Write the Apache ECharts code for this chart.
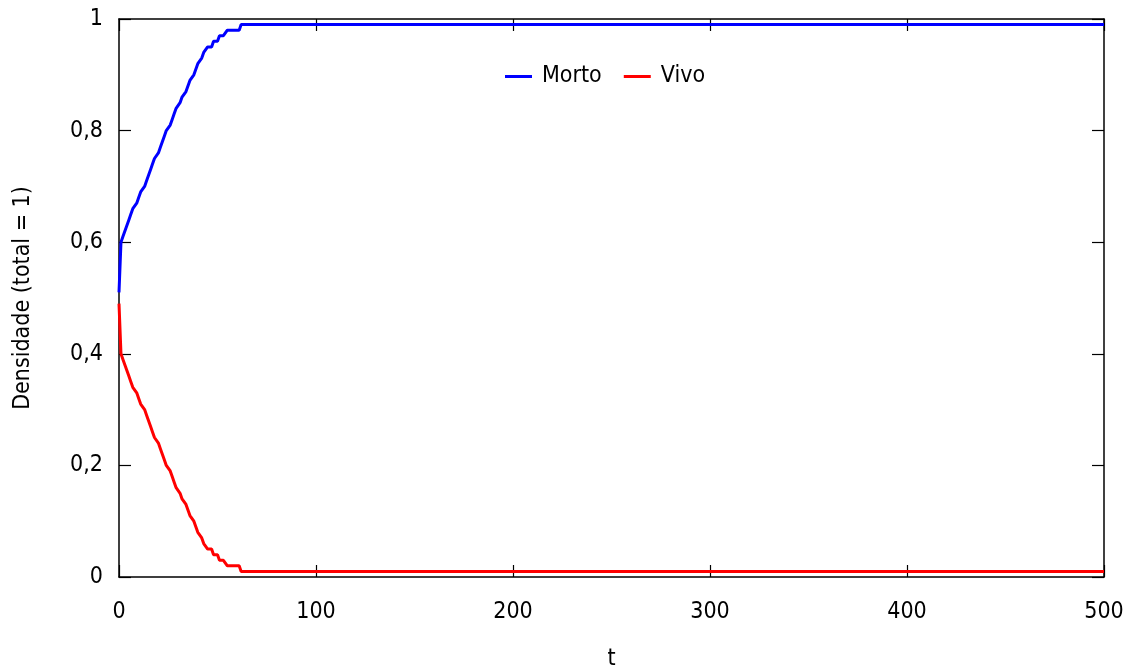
<!DOCTYPE html>
<html>
<head>
<meta charset="utf-8">
<script src="https://cdn.jsdelivr.net/npm/echarts@6/dist/echarts.min.js"></script>
<style>
html,body{margin:0;padding:0;background:#fff;}
#c{width:1133px;height:669px;}
</style>
</head>
<body>
<div id="c"></div>
<script>
var tValues = [0,1,2,3,4,5,6,7,8,9,10,11,12,13,14,15,16,17,18,19,20,21,22,23,24,25,26,27,28,29,30,31,32,33,34,35,36,37,38,39,40,41,42,43,44,45,46,47,48,49,50,51,52,53,54,55,56,57,58,59,60,61,62,500];
var morto = [0.51,0.60,0.61,0.62,0.63,0.64,0.65,0.66,0.66,0.67,0.68,0.69,0.69,0.70,0.71,0.72,0.73,0.74,0.75,0.75,0.76,0.77,0.78,0.79,0.80,0.80,0.81,0.82,0.83,0.84,0.84,0.85,0.86,0.86,0.87,0.88,0.89,0.89,0.90,0.91,0.92,0.92,0.93,0.94,0.94,0.95,0.95,0.95,0.96,0.96,0.96,0.97,0.97,0.97,0.97,0.98,0.98,0.98,0.98,0.98,0.98,0.98,0.99,0.99];
var vivo = [0.49,0.40,0.39,0.38,0.37,0.36,0.35,0.34,0.34,0.33,0.32,0.31,0.31,0.30,0.29,0.28,0.27,0.26,0.25,0.25,0.24,0.23,0.22,0.21,0.20,0.20,0.19,0.18,0.17,0.16,0.16,0.15,0.14,0.14,0.13,0.12,0.11,0.11,0.10,0.09,0.08,0.08,0.07,0.06,0.06,0.05,0.05,0.05,0.04,0.04,0.04,0.03,0.03,0.03,0.03,0.02,0.02,0.02,0.02,0.02,0.02,0.02,0.01,0.01];
var seriesNames = ['Morto','Vivo'];
var yTickLabels = {0:'0',0.2:'0,2',0.4:'0,4',0.6:'0,6',0.8:'0,8',1:'1'};

var FONT = '"DejaVu Sans Condensed","DejaVu Sans",sans-serif';
function pairs(vals){ return tValues.map(function(t,i){ return [t, vals[i]]; }); }

var chart = echarts.init(document.getElementById('c'), null, {renderer:'canvas'});
var axisLine = {show:true, onZero:false, lineStyle:{color:'#000', width:1.5}};
var tick = {show:true, inside:true, length:12, lineStyle:{color:'#000', width:1.2}};
chart.setOption({
  animation:false,
  backgroundColor:'#fff',
  grid:{left:119, right:29, top:19, bottom:92, containLabel:false, outerBoundsMode:'none'},
  legend:{
    data:seriesNames, left:500, top:60, itemWidth:27, itemHeight:3, itemGap:22,
    icon:'rect',
    textStyle:{fontFamily:FONT, fontSize:23, color:'#000', padding:[0,0,0,5]}
  },
  xAxis:[{
    type:'value', min:0, max:500, interval:100, position:'bottom',
    name:'t', nameLocation:'middle', nameGap:71,
    nameTextStyle:{fontFamily:FONT, fontSize:23, color:'#000'},
    axisLine:axisLine, axisTick:tick, splitLine:{show:false},
    axisLabel:{fontFamily:FONT, fontSize:23, color:'#000', margin:24}
  },{
    type:'value', min:0, max:500, interval:100, position:'top',
    axisLine:axisLine, axisTick:tick, splitLine:{show:false}, axisLabel:{show:false}
  }],
  yAxis:[{
    type:'value', min:0, max:1, interval:0.2, position:'left',
    name:'Densidade (total = 1)', nameLocation:'middle', nameGap:84, nameRotate:90,
    nameTextStyle:{fontFamily:FONT, fontSize:23, color:'#000'},
    axisLine:axisLine, axisTick:tick, splitLine:{show:false},
    axisLabel:{fontFamily:FONT, fontSize:23, color:'#000', margin:16,
      formatter:function(v){ var k = Math.round(v*10)/10; return yTickLabels[k] !== undefined ? yTickLabels[k] : String(v).replace('.',','); }}
  },{
    type:'value', min:0, max:1, interval:0.2, position:'right',
    axisLine:axisLine, axisTick:tick, splitLine:{show:false}, axisLabel:{show:false}
  }],
  series:[
    {name:seriesNames[0], type:'line', data:pairs(morto), showSymbol:false, symbol:'none',
     lineStyle:{color:'#0000ff', width:3}, itemStyle:{color:'#0000ff'}},
    {name:seriesNames[1], type:'line', data:pairs(vivo), showSymbol:false, symbol:'none',
     lineStyle:{color:'#ff0000', width:3}, itemStyle:{color:'#ff0000'}}
  ]
});
</script>
</body>
</html>
